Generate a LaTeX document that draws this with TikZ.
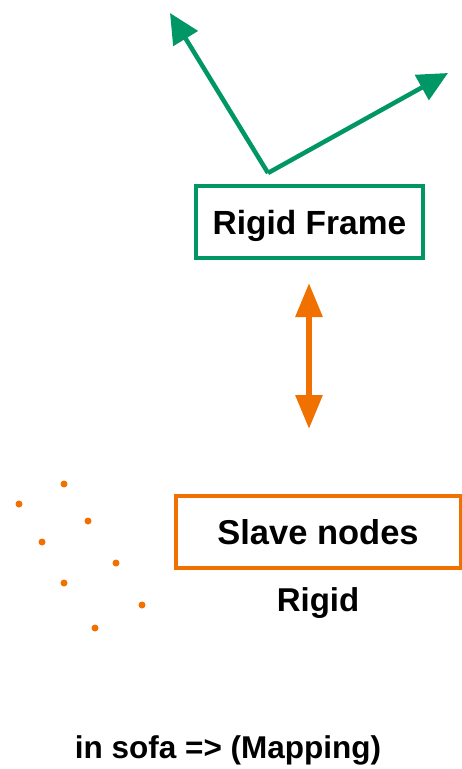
\documentclass[tikz,border=0pt]{standalone}
\usepackage{fontspec}
\setmainfont{Liberation Sans}
\usetikzlibrary{arrows.meta}
\definecolor{framegreen}{RGB}{0,150,102}
\definecolor{slaveorange}{RGB}{240,112,0}
\begin{document}
\begin{tikzpicture}[x=1pt,y=-1pt,
  lbl/.style={font=\fontsize{33}{40}\selectfont\bfseries, inner sep=0pt},
  framebox/.style={draw=framegreen, line width=4pt, minimum width=227pt, minimum height=72pt, inner sep=0pt,
    text depth=0pt, font=\fontsize{33.5}{40}\selectfont\bfseries},
  slavebox/.style={draw=slaveorange, line width=4pt, minimum width=285pt, minimum height=72pt, inner sep=0pt,
    text depth=0pt, font=\fontsize{34.5}{40}\selectfont\bfseries},
  axis/.style={draw=framegreen, line width=4.5pt, -{Triangle[length=30pt,width=28pt]}},
  link/.style={draw=slaveorange, line width=6pt, {Triangle[length=34pt,width=26pt]}-{Triangle[length=34pt,width=26pt]}},
  dot/.style={fill=slaveorange, circle, inner sep=0pt, minimum size=7pt}
]
\useasboundingbox (0,0) rectangle (461,769);

% rigid frame and its axes
\node[framebox] (frame) at (309.5,222) {Rigid Frame};
\coordinate (origin) at (268,173);
\coordinate (xaxis) at (448,73);
\coordinate (yaxis) at (170,13);
\draw[axis] (origin) -- (yaxis);
\draw[axis] (origin) -- (xaxis);

% coupling between frame and slave nodes
\coordinate (ltop) at (309,283);
\coordinate (lbot) at (309,429);
\draw[link] (ltop) -- (lbot);

% slave nodes
\node[slavebox] (slave) at (318,532) {Slave nodes};
\node[lbl] (rigid) at (318,603) {Rigid};

\node[dot] (p1) at (64,484) {};
\node[dot] (p2) at (19,504) {};
\node[dot] (p3) at (88,521) {};
\node[dot] (p4) at (42,542) {};
\node[dot] (p5) at (116,563) {};
\node[dot] (p6) at (64,583) {};
\node[dot] (p7) at (142,605) {};
\node[dot] (p8) at (95,628) {};

\node[lbl, font=\fontsize{31.5}{40}\selectfont\bfseries] (caption) at (228,750) {in sofa => (Mapping)};
\end{tikzpicture}
\end{document}
